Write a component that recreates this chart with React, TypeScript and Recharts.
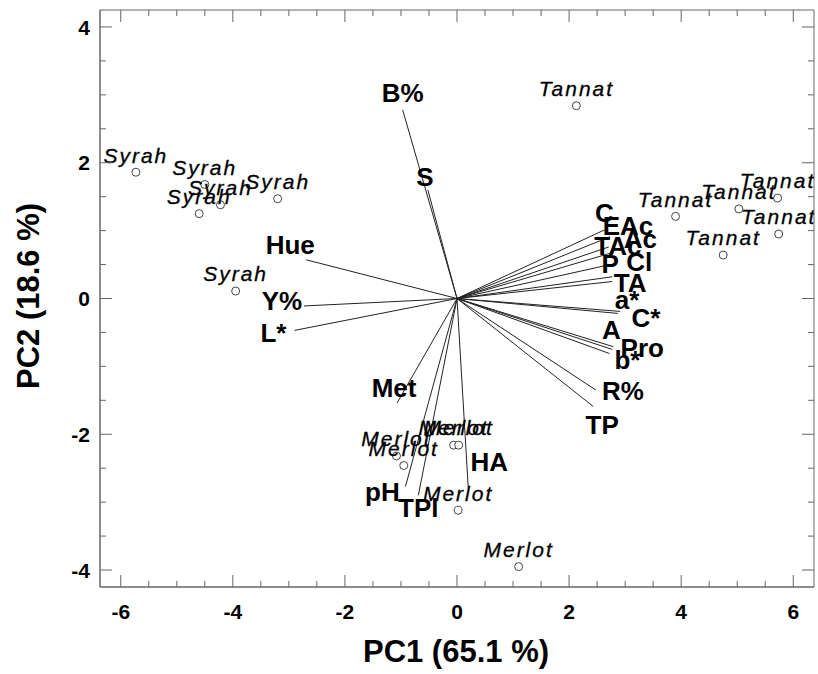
import React from "react";
import { ScatterChart, Scatter, XAxis, YAxis, ReferenceLine, ReferenceArea, Label } from "recharts";

const FONT = '"Liberation Sans", Arial, sans-serif';
const FRAME = "#666";
const TM = 10; // tick margin

// sample scores (PC1, PC2)
const syrahPC1 = [-5.73, -4.5, -4.22, -4.6, -3.2, -3.95];
const syrahPC2 = [1.86, 1.68, 1.38, 1.25, 1.47, 0.11];
const tannatPC1 = [2.13, 3.9, 5.03, 5.72, 5.74, 4.75];
const tannatPC2 = [2.84, 1.21, 1.32, 1.48, 0.95, 0.64];
const merlotPC1 = [-1.08, -0.95, -0.06, 0.03, 0.02, 1.1];
const merlotPC2 = [-2.32, -2.46, -2.16, -2.16, -3.12, -3.95];

// variable loadings
const varNames = ["B%", "S", "Hue", "Y%", "L*", "Met", "pH", "TPl", "HA", "C", "EAc", "TAc", "Ac", "P", "Cl", "TA", "a*", "C*", "A", "Pro", "b*", "R%", "TP"];
const loadPC1 = [-0.97, -0.52, -2.69, -2.73, -2.9, -1.07, -0.92, -0.69, 0.2, 2.63, 2.73, 2.71, 2.79, 2.68, 2.77, 2.77, 2.91, 2.87, 2.79, 2.77, 2.72, 2.48, 2.43];
const loadPC2 = [2.78, 1.6, 0.57, -0.11, -0.47, -1.54, -2.77, -2.9, -2.78, 1.01, 0.91, 0.76, 0.68, 0.49, 0.32, 0.25, -0.19, -0.22, -0.71, -0.75, -0.81, -1.35, -1.59];

const xTicks = [-6, -5.5, -5, -4.5, -4, -3.5, -3, -2.5, -2, -1.5, -1, -0.5, 0, 0.5, 1, 1.5, 2, 2.5, 3, 3.5, 4, 4.5, 5, 5.5, 6];
const yTicks = [-4, -3.5, -3, -2.5, -2, -1.5, -1, -0.5, 0, 0.5, 1, 1.5, 2, 2.5, 3, 3.5, 4];

const X_DOMAIN: [number, number] = [-6.37, 6.37];
const Y_DOMAIN: [number, number] = [-4.25, 4.25];
// data units per pixel, for tick lengths on the top/right frame
const PX_X = (X_DOMAIN[1] - X_DOMAIN[0]) / 714;
const PX_Y = (Y_DOMAIN[1] - Y_DOMAIN[0]) / 577;

// label placement relative to arrow tip (px)
const LABEL_OFFSET: Record<string, [number, number]> = {
  "B%": [0, -17], S: [-3, -13], Hue: [-16, -15], "Y%": [-22, -5], "L*": [-21, 2],
  Met: [-3, -15], pH: [-23, 5], TPl: [0, 13], HA: [21, -25],
  C: [0, -17], EAc: [18, -11], TAc: [9, -1], Ac: [27, -13], P: [3, -1], Cl: [27, -15],
  TA: [18, 1], "a*": [7, -11], "C*": [28, 4], A: [-2, -17], Pro: [30, -2], "b*": [18, 6],
  "R%": [27, 1], TP: [9, 18],
};

const zip = (xs: number[], ys: number[]) => xs.map((x, i) => ({ x, y: ys[i] }));
const syrah = zip(syrahPC1, syrahPC2);
const tannat = zip(tannatPC1, tannatPC2);
const merlot = zip(merlotPC1, merlotPC2);
const vectors = varNames.map((name, i) => ({ name, x: loadPC1[i], y: loadPC2[i] }));

const isMajor = (v: number) => Math.abs(v % 2) < 1e-9;
const tickLen = (v: number) => (isMajor(v) ? 12 : 6);

const BottomTick = (props: any) => {
  const { x, y, payload } = props;
  const ay = y - TM;
  const major = isMajor(payload.value);
  return (
    <g>
      <line x1={x} y1={ay} x2={x} y2={ay - tickLen(payload.value)} stroke={FRAME} />
      {major && (
        <text x={x} y={ay + 32} textAnchor="middle" fontFamily={FONT} fontWeight="bold" fontSize={21} fill="#000">
          {payload.value}
        </text>
      )}
    </g>
  );
};

const LeftTick = (props: any) => {
  const { x, y, payload } = props;
  const ax = x + TM;
  const major = isMajor(payload.value);
  return (
    <g>
      <line x1={ax} y1={y} x2={ax + tickLen(payload.value)} y2={y} stroke={FRAME} />
      {major && (
        <text x={ax - 10} y={y} dy="0.36em" textAnchor="end" fontFamily={FONT} fontWeight="bold" fontSize={21} fill="#000">
          {payload.value}
        </text>
      )}
    </g>
  );
};

const sampleShape = (label: string) => (props: any) => (
  <g>
    <circle cx={props.cx} cy={props.cy} r={4} fill="#fff" stroke="#444" strokeWidth={1} />
    <text
      x={props.cx}
      y={props.cy - 17}
      dy="0.35em"
      textAnchor="middle"
      fontFamily={FONT}
      fontStyle="italic"
      fontSize={21}
      letterSpacing={2}
      fill="#000"
      stroke="#000"
      strokeWidth={0.3}
    >
      {label}
    </text>
  </g>
);

const VarLabel = (props: any) => {
  const name = props.payload.name;
  const [dx, dy] = LABEL_OFFSET[name] || [0, 0];
  return (
    <text
      x={props.cx + dx}
      y={props.cy + dy}
      dy="0.35em"
      textAnchor="middle"
      fontFamily={FONT}
      fontWeight="bold"
      fontSize={26}
      fill="#000"
    >
      {name}
    </text>
  );
};

export default function App() {
  return (
    <div style={{ position: "absolute", left: 0, top: 0, background: "#fff" }}>
      <ScatterChart width={818} height={674} margin={{ top: 10, right: 4, bottom: 27, left: 40 }}>
        <XAxis
          type="number"
          dataKey="x"
          domain={X_DOMAIN}
          ticks={xTicks}
          interval={0}
          allowDataOverflow
          height={60}
          tickSize={0}
          tickMargin={TM}
          tick={<BottomTick />}
          axisLine={{ stroke: FRAME }}
        >
          <Label
            content={() => (
              <text x={456} y={662} textAnchor="middle" fontFamily={FONT} fontWeight="bold" fontSize={31} fill="#000">
                PC1 (65.1 %)
              </text>
            )}
          />
        </XAxis>
        <YAxis
          type="number"
          dataKey="y"
          domain={Y_DOMAIN}
          ticks={yTicks}
          interval={0}
          allowDataOverflow
          width={60}
          tickSize={0}
          tickMargin={TM}
          tick={<LeftTick />}
          axisLine={{ stroke: FRAME }}
        >
          <Label
            content={() => (
              <text
                transform="translate(28,296) rotate(-90)"
                dy="0.35em"
                textAnchor="middle"
                fontFamily={FONT}
                fontWeight="bold"
                fontSize={31}
                fill="#000"
              >
                PC2 (18.6 %)
              </text>
            )}
          />
        </YAxis>

        {/* frame with mirrored ticks on top and right */}
        <ReferenceArea
          x1={X_DOMAIN[0]}
          x2={X_DOMAIN[1]}
          y1={Y_DOMAIN[0]}
          y2={Y_DOMAIN[1]}
          fill="none"
          fillOpacity={0}
          stroke={FRAME}
          strokeWidth={1}
        />
        {xTicks.map((t) => (
          <ReferenceLine
            key={"tx" + t}
            segment={[
              { x: t, y: Y_DOMAIN[1] },
              { x: t, y: Y_DOMAIN[1] - tickLen(t) * PX_Y },
            ]}
            stroke={FRAME}
          />
        ))}
        {yTicks.map((t) => (
          <ReferenceLine
            key={"ty" + t}
            segment={[
              { x: X_DOMAIN[1], y: t },
              { x: X_DOMAIN[1] - tickLen(t) * PX_X, y: t },
            ]}
            stroke={FRAME}
          />
        ))}

        {vectors.map((v) => (
          <ReferenceLine
            key={v.name}
            segment={[
              { x: 0, y: 0 },
              { x: v.x, y: v.y },
            ]}
            stroke="#222"
            strokeWidth={1}
          />
        ))}
        <Scatter data={vectors} shape={<VarLabel />} isAnimationActive={false} />
        <Scatter data={syrah} shape={sampleShape("Syrah")} isAnimationActive={false} />
        <Scatter data={tannat} shape={sampleShape("Tannat")} isAnimationActive={false} />
        <Scatter data={merlot} shape={sampleShape("Merlot")} isAnimationActive={false} />
      </ScatterChart>
    </div>
  );
}
